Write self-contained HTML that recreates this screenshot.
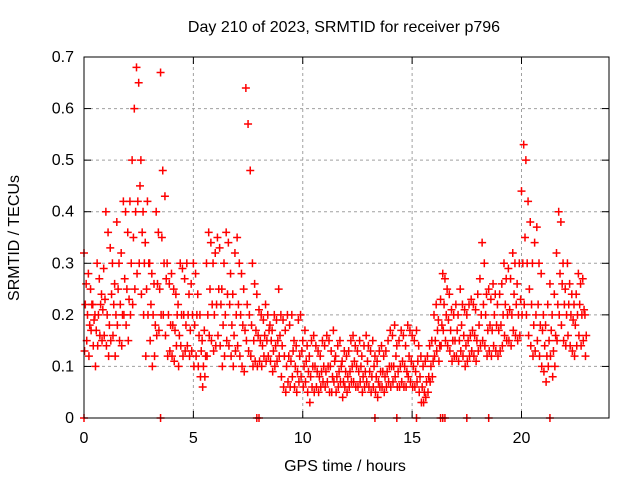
<!DOCTYPE html>
<html><head><meta charset="utf-8"><style>
body{margin:0;background:#fff;}
svg{display:block;font-family:"Liberation Sans",sans-serif;}
</style></head><body>
<svg id="chart" width="640" height="480">
<text x="344" y="32" font-size="16" text-anchor="middle">Day 210 of 2023, SRMTID for receiver p796</text>
<text x="19" y="238" font-size="16" text-anchor="middle" transform="rotate(-90 19 238)">SRMTID / TECUs</text>
<text x="345" y="471" font-size="16" text-anchor="middle">GPS time / hours</text>
<g id="grid"></g>
<g id="ticks"></g>
<g id="marks"></g>
<rect x="84" y="57" width="525" height="361" fill="none" stroke="#000" stroke-width="1"/>
</svg>
<script>
const xTicks=[0,5,10,15,20];
const yTicks=[0,0.1,0.2,0.3,0.4,0.5,0.6,0.7];
const yTickLabels=["0","0.1","0.2","0.3","0.4","0.5","0.6","0.7"];
const hiVals=[.32,.26,.28,.25,.22,.2,.3,.27,.24,.29,.4,.36,.33,.3,.26,.38,.3,.32,.42,.4,.36,.42,.5,.6,.68,.65,.5,.4,.34,.42,.3,.28,.26,.4,.36,.67,.48,.43,.3,.26,.28,.25,.24,.22,.3,.29,.27,.3,.24,.26,.3,.28,.24,.2,.15,.17,.3,.36,.34,.3,.32,.35,.33,.25,.3,.36,.34,.28,.24,.32,.35,.3,.28,.25,.64,.57,.48,.3,.26,.24,.21,.2,.19,.22,.2,.18,.17,.2,.19,.25,.2,.19,.17,.2,.18,.2,.15,.14,.19,.2,.15,.17,.14,.12,.15,.16,.14,.13,.12,.15,.14,.16,.15,.13,.17,.12,.14,.15,.11,.13,.12,.13,.15,.16,.14,.13,.15,.12,.14,.16,.14,.13,.15,.12,.11,.13,.14,.12,.13,.15,.17,.16,.18,.14,.15,.17,.16,.14,.18,.17,.16,.15,.17,.14,.12,.1,.11,.12,.14,.15,.2,.22,.19,.23,.28,.27,.25,.24,.21,.2,.22,.2,.25,.22,.21,.2,.22,.23,.22,.21,.24,.27,.34,.3,.24,.25,.23,.26,.24,.22,.24,.26,.3,.27,.29,.27,.32,.3,.26,.3,.44,.53,.5,.42,.38,.3,.34,.37,.3,.28,.2,.18,.22,.26,.2,.24,.32,.4,.38,.3,.25,.3,.26,.24,.22,.24,.28,.26,.27,.2];
const midVals=[.22,.2,.18,.22,.19,.17,.2,.22,.21,.23,.2,.18,.24,.22,.2,.25,.22,.2,.27,.25,.23,.3,.35,.4,.42,.45,.36,.3,.25,.3,.22,.2,.18,.26,.25,.35,.3,.27,.2,.18,.18,.17,.2,.16,.2,.2,.18,.2,.17,.2,.18,.2,.16,.13,.1,.12,.2,.25,.22,.2,.22,.25,.22,.18,.2,.24,.22,.18,.16,.2,.22,.2,.18,.17,.22,.2,.18,.15,.17,.16,.15,.14,.16,.15,.17,.15,.13,.14,.15,.16,.14,.12,.1,.12,.11,.13,.1,.09,.12,.13,.1,.11,.09,.08,.1,.1,.09,.08,.09,.1,.09,.1,.1,.08,.11,.08,.09,.1,.07,.09,.08,.09,.1,.11,.1,.09,.1,.08,.09,.11,.09,.08,.1,.08,.07,.09,.09,.08,.09,.1,.1,.1,.12,.09,.1,.11,.1,.09,.12,.11,.1,.09,.11,.08,.06,.05,.07,.08,.1,.11,.15,.17,.14,.18,.22,.2,.19,.17,.15,.15,.17,.15,.18,.16,.14,.15,.16,.17,.16,.15,.18,.2,.22,.2,.17,.18,.17,.2,.18,.17,.18,.2,.22,.2,.21,.2,.24,.22,.2,.23,.3,.35,.3,.25,.22,.18,.2,.22,.18,.17,.14,.12,.15,.17,.13,.16,.22,.28,.26,.22,.2,.22,.2,.19,.18,.2,.22,.2,.21,.16];
const loVals=[.13,.15,.12,.17,.14,.1,.14,.16,.15,.16,.14,.12,.15,.16,.12,.18,.15,.14,.2,.18,.15,.2,.22,.25,.28,.3,.24,.2,.12,.2,.15,.1,.12,.16,.17,.2,.2,.16,.12,.13,.12,.11,.14,.1,.14,.12,.13,.14,.12,.13,.1,.12,.1,.08,.06,.08,.12,.16,.15,.13,.14,.16,.14,.1,.12,.15,.14,.12,.1,.13,.14,.12,.1,.09,.15,.13,.12,.1,.11,.1,.11,.1,.12,.11,.12,.11,.09,.1,.11,.12,.08,.06,.05,.07,.06,.08,.06,.05,.07,.08,.06,.07,.05,.03,.06,.05,.06,.05,.06,.07,.06,.07,.05,.05,.07,.05,.06,.07,.04,.06,.05,.06,.07,.07,.06,.06,.07,.05,.06,.07,.06,.05,.06,.05,.04,.06,.06,.05,.06,.07,.06,.07,.08,.06,.06,.07,.06,.06,.08,.07,.06,.06,.07,.05,.03,.03,.04,.05,.07,.08,.12,.13,.11,.14,.17,.15,.14,.13,.11,.12,.12,.11,.13,.12,.1,.11,.12,.13,.12,.11,.13,.14,.15,.14,.12,.13,.12,.14,.13,.12,.13,.14,.16,.15,.15,.14,.17,.16,.15,.16,.2,.22,.2,.16,.14,.12,.13,.15,.12,.1,.09,.07,.1,.12,.08,.1,.15,.2,.18,.15,.14,.16,.14,.13,.12,.14,.16,.14,.15,.12];
const zeroTimes=[0,3.5,7.9,8.0,13.3,14.3,15.2,16.3,16.4,16.5,17.5,18.5,21.3];
const timeStep=0.1;

const NS="http://www.w3.org/2000/svg";
const X0=84,X1=609,Y0=418,Y1=57;
function xs(t){return X0+(t/24)*(X1-X0);}
function ys(v){return Y0-(v/0.7)*(Y0-Y1);}
const grid=document.getElementById('grid'),ticks=document.getElementById('ticks'),marks=document.getElementById('marks');
function mk(tag,attrs,parent){const e=document.createElementNS(NS,tag);for(const k in attrs)e.setAttribute(k,attrs[k]);parent.appendChild(e);return e;}
yTicks.forEach((v,i)=>{
  const y=ys(v);
  if(i>0&&i<yTicks.length-1){const g=mk('line',{x1:X0,x2:X1,y1:y,y2:y,stroke:'#a0a0a0','stroke-dasharray':'3,3'},grid);
  
  }
  mk('line',{x1:X0,x2:X0+7,y1:y,y2:y,stroke:'#000'},ticks);
  mk('line',{x1:X1,x2:X1-7,y1:y,y2:y,stroke:'#000'},ticks);
  const t=mk('text',{x:X0-10,y:y+5,'font-size':16,'text-anchor':'end'},ticks);
  t.textContent=yTickLabels[i];
  
  
});
xTicks.forEach(v=>{
  const x=xs(v);
  if(v>0){const g=mk('line',{x1:x,x2:x,y1:Y0,y2:Y1,stroke:'#a0a0a0','stroke-dasharray':'3,3'},grid);
  
  }
  mk('line',{x1:x,x2:x,y1:Y0,y2:Y0-7,stroke:'#000'},ticks);
  mk('line',{x1:x,x2:x,y1:Y1,y2:Y1+7,stroke:'#000'},ticks);
  const t=mk('text',{x:x,y:Y0+25,'font-size':16,'text-anchor':'middle'},ticks);
  t.textContent=String(v);
  
  
});
function plus(t,v,col){
  const x=xs(t),y=ys(v);
  const p=mk('path',{d:`M${x-4},${y}h8M${x},${y-4}v8`,stroke:col,'stroke-width':1.5,fill:'none'},marks);
  
  
}
for(let i=0;i<hiVals.length;i++){
  const t=i*timeStep;
  plus(t+0.025,loVals[i],'#ff0000');
  plus(t+0.06,midVals[i],'#ff0000');
  plus(t,hiVals[i],'#ff0000');
}
zeroTimes.forEach(t=>{plus(t,0,'#ff0000');});
</script>
</body></html>
